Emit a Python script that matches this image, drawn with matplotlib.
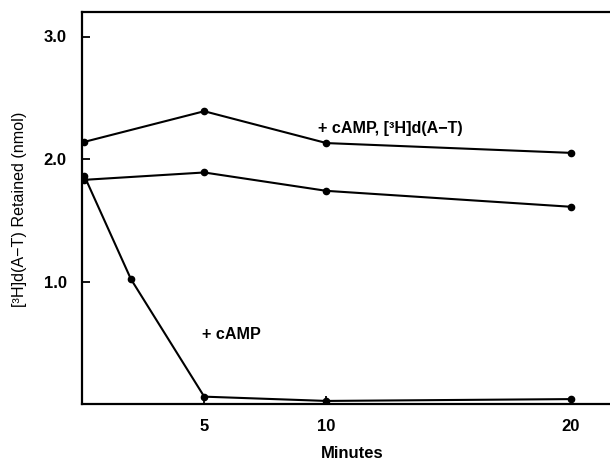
import matplotlib
matplotlib.use("Agg")
import matplotlib.pyplot as plt

plt.rcParams['font.family'] = ['Liberation Sans', 'DejaVu Sans']

# data (minutes, nmol retained)
t_top = [0.1, 5, 10, 20]
y_top = [2.14, 2.39, 2.13, 2.05]

t_mid = [0.1, 5, 10, 20]
y_mid = [1.83, 1.89, 1.74, 1.61]

t_camp = [0.1, 2, 5, 10, 20]
y_camp = [1.86, 1.02, 0.06, 0.025, 0.04]

xticks = [5, 10, 20]
xticklabels = ['5', '10', '20']
yticks = [1.0, 2.0, 3.0]
yticklabels = ['1.0', '2.0', '3.0']

fig = plt.figure(figsize=(6.10, 4.62), dpi=100)
ax = fig.add_axes([82/610, 1 - 404/462, 1 - 82/610, (404 - 12)/462])

for t, y in [(t_top, y_top), (t_mid, y_mid), (t_camp, y_camp)]:
    ax.plot(t, y, color='black', lw=1.5, marker='o', ms=4.5)

ax.set_xlim(0, 21.6)
ax.set_ylim(0, 3.2)
ax.spines['right'].set_visible(False)
for s in ['left', 'top', 'bottom']:
    ax.spines[s].set_linewidth(1.6)

ax.set_xticks(xticks)
ax.set_xticklabels(xticklabels, fontsize=12, fontweight='bold')
ax.set_yticks(yticks)
ax.set_yticklabels(yticklabels, fontsize=12, fontweight='bold')
ax.tick_params(direction='in', length=6, width=1.3, pad=11)

ax.text(9.65, 2.25, '+ cAMP, [³H]d(A\u2212T)', fontsize=11.6, fontweight='bold',
        va='center', ha='left')
ax.text(4.9, 0.57, '+ cAMP', fontsize=11.6, fontweight='bold', va='center', ha='left')

fig.text(352/610, 1 - 454/462, 'Minutes', fontsize=12, fontweight='bold',
         ha='center', va='center')
fig.text(20/610, 1 - 209/462, '[³H]d(A\u2212T) Retained (nmol)', fontsize=11.6,
         rotation=90, ha='center', va='center')

fig.savefig('out.png', dpi=100)
